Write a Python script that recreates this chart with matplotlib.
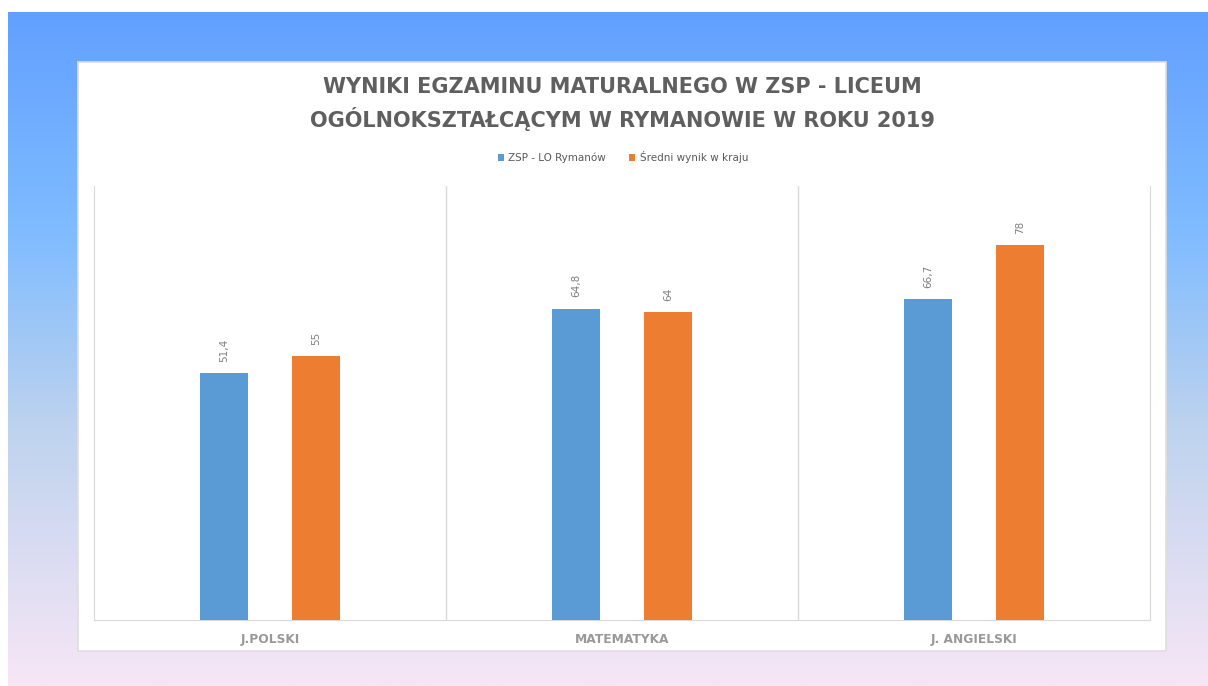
import numpy as np
import matplotlib
matplotlib.use("Agg")
import matplotlib.pyplot as plt
from matplotlib.patches import Rectangle
from matplotlib.colors import LinearSegmentedColormap

# dane
categories = ["J.POLSKI", "MATEMATYKA", "J. ANGIELSKI"]
school = [51.4, 64.8, 66.7]
country = [55, 64, 78]
series_names = ["ZSP - LO Rymanów", "Średni wynik w kraju"]
school_labels = ["51,4", "64,8", "66,7"]
country_labels = ["55", "64", "78"]
title_lines = ["WYNIKI EGZAMINU MATURALNEGO W ZSP - LICEUM",
               "OGÓLNOKSZTAŁCĄCYM W RYMANOWIE W ROKU 2019"]

W, H = 1208, 686
fig = plt.figure(figsize=(W / 100, H / 100), dpi=100)
fig.patch.set_facecolor("white")

# tlo z gradientem
bg = fig.add_axes([0, 0, 1, 1])
bg.set_xlim(0, W)
bg.set_ylim(H, 0)
bg.axis("off")
cmap = LinearSegmentedColormap.from_list(
    "bg", [(0.0, "#62a0ff"), (0.33, "#80bcff"), (0.62, "#bed3ee"), (1.0, "#f7e6f6")])
grad = np.linspace(0, 1, 256).reshape(-1, 1)
bg.imshow(grad, cmap=cmap, aspect="auto", extent=(8, W, H, 12), zorder=0)
bg.add_patch(Rectangle((78, 62), 1088, 589, facecolor="white",
                       edgecolor="#dedede", linewidth=1.2, zorder=1))

# wykres
ax = fig.add_axes([94 / W, 1 - 620 / H, (1150 - 94) / W, (620 - 186) / H])
ax.set_facecolor("none")
x = np.arange(len(categories))
bw = 0.136
off = 0.13
b1 = ax.bar(x - off, school, bw, color="#5b9bd5", label=series_names[0], zorder=3)
b2 = ax.bar(x + off, country, bw, color="#ed7d31", label=series_names[1], zorder=3)
ax.set_xlim(-0.5, 2.5)
ax.set_ylim(0, 90.3)
ax.set_yticks([])
ax.set_xticks([])
for xv in [0.5, 1.5]:
    ax.axvline(xv, color="#d9d9d9", lw=1, zorder=1)
for s in ["left", "right", "bottom"]:
    ax.spines[s].set_color("#d9d9d9")
ax.spines["top"].set_visible(False)

for bars, labs in [(b1, school_labels), (b2, country_labels)]:
    for r, t in zip(bars, labs):
        ax.annotate(t, (r.get_x() + r.get_width() / 2, r.get_height()),
                    xytext=(0, 8), textcoords="offset points", rotation=90,
                    ha="center", va="bottom", fontsize=7.5, color="#7f7f7f")

for xv, c in zip(x, categories):
    ax.text(xv, -4.0, c, ha="center", va="center", fontsize=8.8,
            color="#999999", fontweight="semibold")

# tytul
fig.text(622 / W, 1 - 87 / H, title_lines[0], ha="center", va="center",
         fontsize=15, fontweight="bold", color="#5f5f5f")
fig.text(622 / W, 1 - 119 / H, title_lines[1], ha="center", va="center",
         fontsize=15, fontweight="bold", color="#5f5f5f")

leg = fig.legend(handles=[b1, b2], loc="center", bbox_to_anchor=(623 / W, 1 - 157 / H),
                 ncol=2, frameon=False, fontsize=7.5, handlelength=0.6,
                 handleheight=0.6, columnspacing=2.2, handletextpad=0.4)
for t in leg.get_texts():
    t.set_color("#595959")

fig.savefig("out.png", dpi=100)
